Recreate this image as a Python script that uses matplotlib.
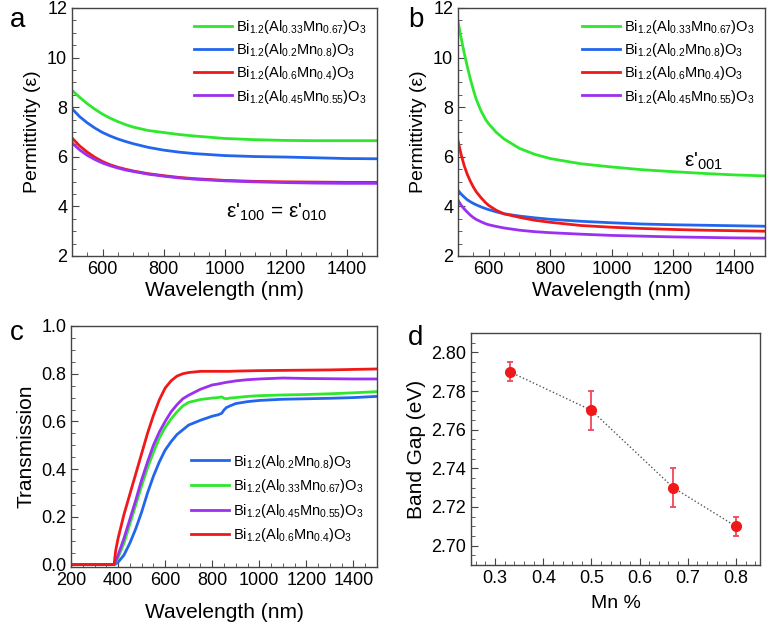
import numpy as np
import matplotlib
matplotlib.use('Agg')
import matplotlib.pyplot as plt

plt.rcParams['font.family'] = ['Liberation Sans', 'DejaVu Sans']
plt.rcParams['mathtext.fontset'] = 'custom'
plt.rcParams['mathtext.rm'] = 'Liberation Sans'
plt.rcParams['mathtext.it'] = 'Liberation Sans:italic'
plt.rcParams['mathtext.bf'] = 'Liberation Sans:bold'

# Couleurs
green = '#2ee82e'
blue = '#2266ee'
red = '#f01818'
purple = '#9b30f0'

lab_33 = r'Bi$_{1.2}$(Al$_{0.33}$Mn$_{0.67}$)O$_3$'
lab_20 = r'Bi$_{1.2}$(Al$_{0.2}$Mn$_{0.8}$)O$_3$'
lab_60 = r'Bi$_{1.2}$(Al$_{0.6}$Mn$_{0.4}$)O$_3$'
lab_45 = r'Bi$_{1.2}$(Al$_{0.45}$Mn$_{0.55}$)O$_3$'

# Panel a : permittivité dans le plan
wl_a = [500, 525, 550, 575, 600, 625, 650, 675, 700, 750, 800, 850, 900, 1000, 1100, 1200, 1300, 1400, 1500]
a_green = [8.68, 8.40, 8.14, 7.92, 7.72, 7.56, 7.42, 7.30, 7.20, 7.06, 6.98, 6.90, 6.84, 6.74, 6.69, 6.66, 6.65, 6.65, 6.65]
a_blue = [7.94, 7.62, 7.37, 7.16, 6.98, 6.84, 6.72, 6.62, 6.53, 6.38, 6.27, 6.19, 6.13, 6.05, 6.01, 5.99, 5.96, 5.93, 5.92]
a_red = [6.76, 6.44, 6.19, 5.98, 5.81, 5.68, 5.58, 5.50, 5.43, 5.32, 5.24, 5.17, 5.12, 5.05, 5.01, 4.99, 4.98, 4.97, 4.97]
a_purple = [6.56, 6.28, 6.06, 5.89, 5.75, 5.64, 5.55, 5.47, 5.41, 5.30, 5.22, 5.15, 5.10, 5.03, 4.99, 4.96, 4.94, 4.93, 4.93]

# Panel b : permittivité hors plan
wl_b = [500, 510, 520, 530, 540, 550, 560, 575, 590, 600, 625, 650, 700, 750, 800, 900,
        1000, 1100, 1200, 1300, 1400, 1500]
b_green = [11.45, 10.8, 10.2, 9.65, 9.15, 8.7, 8.3, 7.85, 7.5, 7.33, 6.98, 6.72, 6.34, 6.10, 5.93, 5.72,
           5.59, 5.48, 5.40, 5.33, 5.27, 5.23]
b_blue = [4.65, 4.50, 4.38, 4.27, 4.19, 4.12, 4.06, 3.98, 3.91, 3.87, 3.78, 3.70, 3.61, 3.54, 3.48, 3.40,
          3.34, 3.29, 3.26, 3.24, 3.22, 3.20]
b_red = [6.65, 6.10, 5.65, 5.30, 5.02, 4.78, 4.58, 4.35, 4.15, 4.04, 3.84, 3.70, 3.56, 3.44, 3.36, 3.23,
         3.16, 3.11, 3.07, 3.04, 3.02, 3.00]
b_purple = [4.25, 4.05, 3.90, 3.77, 3.65, 3.55, 3.47, 3.38, 3.30, 3.26, 3.19, 3.13, 3.04, 2.98, 2.94, 2.88,
            2.83, 2.80, 2.77, 2.75, 2.73, 2.72]

# Panel c : transmission
wl_c = [200, 383, 390, 400, 425, 450, 475, 500, 525, 550, 575, 600, 625, 650, 675, 700,
        750, 800, 825, 840, 850, 860, 875, 900, 950, 1000, 1100, 1200, 1300, 1400, 1500]
c_blue = [0, 0, 0.003, 0.01, 0.04, 0.09, 0.15, 0.22, 0.30, 0.37, 0.43, 0.48, 0.515, 0.545, 0.565, 0.585,
          0.605, 0.622, 0.628, 0.634, 0.648, 0.658, 0.665, 0.675, 0.683, 0.688, 0.693, 0.695, 0.697, 0.70, 0.705]
c_green = [0, 0, 0.01, 0.03, 0.09, 0.17, 0.25, 0.33, 0.405, 0.47, 0.53, 0.575, 0.61, 0.64, 0.665, 0.68,
           0.692, 0.698, 0.70, 0.703, 0.697, 0.695, 0.698, 0.70, 0.705, 0.708, 0.711, 0.713, 0.716, 0.72, 0.725]
c_purple = [0, 0, 0.015, 0.04, 0.11, 0.19, 0.27, 0.355, 0.43, 0.50, 0.555, 0.60, 0.64, 0.67, 0.695, 0.71,
            0.735, 0.753, 0.757, 0.76, 0.762, 0.764, 0.766, 0.77, 0.775, 0.778, 0.782, 0.78, 0.779, 0.778, 0.778]
c_red = [0, 0, 0.06, 0.11, 0.21, 0.295, 0.38, 0.465, 0.55, 0.625, 0.69, 0.74, 0.77, 0.79, 0.80, 0.805,
         0.81, 0.81, 0.81, 0.81, 0.81, 0.81, 0.81, 0.811, 0.812, 0.813, 0.814, 0.815, 0.816, 0.818, 0.82]

# Panel d : gap
mn = [0.33, 0.5, 0.67, 0.8]
gap = [2.79, 2.77, 2.73, 2.71]
gap_err = [0.005, 0.01, 0.01, 0.005]

W, H = 767, 624
fig = plt.figure(figsize=(W / 100, H / 100), dpi=100)


def make_ax(l, t, r, b):
    return fig.add_axes([l / W, 1 - b / H, (r - l) / W, (b - t) / H])


def style(ax):
    for s in ax.spines.values():
        s.set_color('#444444')
        s.set_linewidth(1.0)
    ax.tick_params(which='both', direction='in', top=False, right=False,
                   colors='#444444', labelcolor='black', labelsize=13)
    ax.tick_params(which='major', length=5)
    ax.tick_params(which='minor', length=3)
    ax.minorticks_on()


lw = 2.0

# a
ax = make_ax(72, 8, 377, 256)
ax.plot(wl_a, a_green, color=green, lw=lw, label=lab_33)
ax.plot(wl_a, a_blue, color=blue, lw=lw, label=lab_20)
ax.plot(wl_a, a_red, color=red, lw=lw, label=lab_60)
ax.plot(wl_a, a_purple, color=purple, lw=lw, label=lab_45)
ax.set_xlim(500, 1500)
ax.set_ylim(2, 12)
ax.set_xticks([600, 800, 1000, 1200, 1400])
ax.set_yticks([2, 4, 6, 8, 10, 12])
style(ax)
ax.set_xlabel('Wavelength (nm)', fontsize=15, labelpad=2)
ax.set_ylabel('Permittivity (ε)', fontsize=14)
ax.legend(loc='upper right', frameon=False, fontsize=10.5, handlelength=2.6,
          labelspacing=0.35, borderaxespad=0.3, handletextpad=0.3)
ax.text(0.67, 0.175, r"ε'$_{100}$ = ε'$_{010}$", transform=ax.transAxes,
        ha='center', va='center', fontsize=15)
fig.text(10 / W, 1 - 20 / H, 'a', fontsize=20, va='center')

# b
ax = make_ax(458, 8, 765, 256)
ax.plot(wl_b, b_green, color=green, lw=lw, label=lab_33)
ax.plot(wl_b, b_blue, color=blue, lw=lw, label=lab_20)
ax.plot(wl_b, b_red, color=red, lw=lw, label=lab_60)
ax.plot(wl_b, b_purple, color=purple, lw=lw, label=lab_45)
ax.set_xlim(500, 1500)
ax.set_ylim(2, 12)
ax.set_xticks([600, 800, 1000, 1200, 1400])
ax.set_yticks([2, 4, 6, 8, 10, 12])
style(ax)
ax.set_xlabel('Wavelength (nm)', fontsize=15, labelpad=2)
ax.set_ylabel('Permittivity (ε)', fontsize=14)
ax.legend(loc='upper right', frameon=False, fontsize=10.5, handlelength=2.6,
          labelspacing=0.35, borderaxespad=0.3, handletextpad=0.3)
ax.text(0.80, 0.38, r"ε'$_{001}$", transform=ax.transAxes,
        ha='center', va='center', fontsize=15)
fig.text(408 / W, 1 - 20 / H, 'b', fontsize=20, va='center')

# c
ax = make_ax(71, 326, 377, 567)
ax.plot(wl_c, c_blue, color=blue, lw=lw, label=lab_20)
ax.plot(wl_c, c_green, color=green, lw=lw, label=lab_33)
ax.plot(wl_c, c_purple, color=purple, lw=lw, label=lab_45)
ax.plot(wl_c, c_red, color=red, lw=lw, label=lab_60)
ax.set_xlim(200, 1500)
ax.set_ylim(-0.01, 1.0)
ax.set_xticks([200, 400, 600, 800, 1000, 1200, 1400])
ax.set_yticks([0.0, 0.2, 0.4, 0.6, 0.8, 1.0])
ax.set_yticklabels(['0.0', '0.2', '0.4', '0.6', '0.8', '1.0'])
style(ax)
ax.set_xlabel('Wavelength (nm)', fontsize=15, labelpad=10)
ax.set_ylabel('Transmission', fontsize=15)
ax.legend(loc='lower right', bbox_to_anchor=(1.0, 0.04), frameon=False, fontsize=10.5,
          handlelength=2.6, labelspacing=0.45, handletextpad=0.3)
fig.text(10 / W, 1 - 333 / H, 'c', fontsize=20, va='center')

# d
ax = make_ax(471, 333, 760, 565)
ax.plot(mn, gap, color='#555555', lw=1.0, ls=':')
ax.errorbar(mn, gap, yerr=gap_err, fmt='o', color=red, ecolor='#f04858',
            markersize=7, elinewidth=1.3, capsize=2.5, capthick=1.3)
ax.set_xlim(0.25, 0.85)
ax.set_ylim(2.69, 2.81)
ax.set_xticks([0.3, 0.4, 0.5, 0.6, 0.7, 0.8])
ax.set_yticks([2.70, 2.72, 2.74, 2.76, 2.78, 2.80])
ax.set_yticklabels(['2.70', '2.72', '2.74', '2.76', '2.78', '2.80'])
style(ax)
ax.set_xlabel('Mn %', fontsize=14, labelpad=6)
ax.set_ylabel('Band Gap (eV)', fontsize=15)
fig.text(408 / W, 1 - 338 / H, 'd', fontsize=20, va='center')

plt.savefig('out.png', dpi=100)
